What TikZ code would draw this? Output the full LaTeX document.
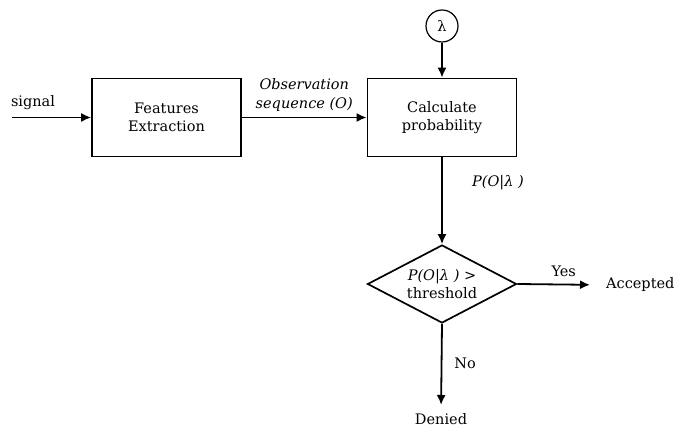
\documentclass[tikz,border=0pt]{standalone}
\usepackage{fontspec}
\setmainfont{DejaVu Serif}
\usetikzlibrary{shapes.geometric,arrows.meta}

\tikzset{
  blok/.style={draw,rectangle,line width=1.7pt,align=center,minimum width=149pt,minimum height=78pt},
  flecha/.style={line width=1.8pt,-{Latex[length=10pt,width=9pt]}},
  rotulo/.style={inner sep=0pt,align=center}
}

\begin{document}
\begin{tikzpicture}[x=1pt,y=-1pt,font=\fontsize{14.5}{18}\selectfont]
  \useasboundingbox (0,0) rectangle (675,430);
  % blocos principais
  \node[blok] (feat) at (166.5,117.5) {Features\\Extraction};
  \node[blok] (calc) at (442,117.5) {Calculate\\probability};
  \node[draw,circle,line width=1.2pt,minimum size=32pt,inner sep=0pt] (lam) at (442,26) {λ};
  \node[draw,diamond,aspect=1.9,line width=1.7pt,minimum width=149pt,minimum height=78pt,inner sep=0pt,align=center] (dec) at (442,284) {\textit{P(O|λ )} >\\threshold};
  % entradas e saidas
  \coordinate (sig) at (12,117.5);
  \node[rotulo] (sigtxt) at (33,103) {signal};
  \node[rotulo,anchor=west] (acc) at (606,285) {Accepted};
  \node[rotulo,anchor=north] (den) at (441,413) {Denied};
  % setas
  \draw[flecha] (sig) -- (feat.west);
  \draw[flecha] (feat.east) -- node[rotulo,above=5pt,font=\fontsize{14.5}{19}\selectfont\itshape] {Observation\\sequence (O)} (calc.west);
  \draw[flecha] (lam) -- (calc.north);
  \draw[flecha] (calc.south) -- (dec.north);
  \node[rotulo,font=\fontsize{14.5}{18}\selectfont\itshape] (plam) at (498,183) {P(O|λ )};
  \draw[flecha,shorten >=16pt] (dec.east) -- node[rotulo,above=7pt,xshift=2pt] (yes) {Yes} (acc.west);
  \draw[flecha,shorten >=8pt] (dec.south) -- node[rotulo,right=12pt,yshift=5pt] (no) {No} (den.north);
\end{tikzpicture}
\end{document}
